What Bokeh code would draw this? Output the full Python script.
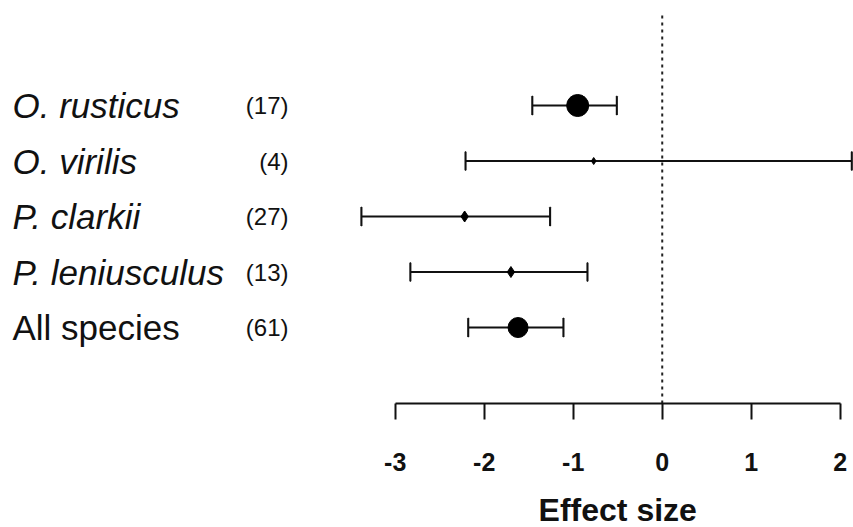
from bokeh.plotting import figure
from bokeh.layouts import column
from bokeh.models import ColumnDataSource, Label, FixedTicker, Range1d
from bokeh.core.properties import value
from bokeh.embed import file_html
from bokeh.resources import INLINE

# Forest plot: mean effect size with confidence interval per crayfish species
species = ["O. rusticus", "O. virilis", "P. clarkii", "P. leniusculus", "All species"]
italic = [True, True, True, True, False]
n_studies = [17, 4, 27, 13, 61]
effect = [-0.95, -0.77, -2.22, -1.70, -1.62]
ci_low = [-1.46, -2.21, -3.38, -2.83, -2.18]
ci_high = [-0.51, 2.13, -1.26, -0.84, -1.11]
point_size = [22, 7, 11, 11, 20]
point_marker = ["circle", "diamond", "diamond", "diamond", "circle"]
x_ticks = [-3, -2, -1, 0, 1, 2]
x_tick_labels = ["-3", "-2", "-1", "0", "1", "2"]
x_title = "Effect size"

rows = list(range(len(species), 0, -1))  # top row first

src = ColumnDataSource(dict(
    y=rows, est=effect, lo=ci_low, hi=ci_high,
    size=point_size, marker=point_marker,
))

W = 853
xr = Range1d(-7.435, 2.149)
p = figure(width=W, frame_height=403, output_backend="svg", toolbar_location=None,
           x_range=xr, y_range=(-0.369, 6.892),
           min_border_left=0, min_border_right=0, min_border_top=0,
           min_border_bottom=80, outline_line_color=None,
           background_fill_color="white", border_fill_color="white")
p.grid.visible = False
p.yaxis.visible = False

# reference line at zero effect
p.segment(x0=0, x1=0, y0=-0.369, y1=6.68, line_color="#222222",
          line_width=2, line_dash="3 4")

# confidence intervals with end caps
p.segment(x0="lo", x1="hi", y0="y", y1="y", source=src,
          line_color="#111111", line_width=2)
p.rect(x="lo", y="y", width=0.001, height=18, height_units="screen",
       source=src, line_color="#111111", line_width=2, fill_color=None)
p.rect(x="hi", y="y", width=0.001, height=18, height_units="screen",
       source=src, line_color="#111111", line_width=2, fill_color=None)

# point estimates
p.scatter(x="est", y="y", size="size", marker="marker", source=src,
          fill_color="black", line_color="black")

# x axis, drawn only over the tick span
ax = p.xaxis[0]
ax.bounds = (x_ticks[0], x_ticks[-1])
ax.ticker = FixedTicker(ticks=x_ticks)
ax.major_label_overrides = {t: s for t, s in zip(x_ticks, x_tick_labels)}
ax.axis_line_width = 2
ax.axis_line_color = "#111111"
ax.major_tick_line_width = 2
ax.major_tick_line_color = "#111111"
ax.major_tick_in = 0
ax.major_tick_out = 16
ax.minor_tick_line_color = None
ax.major_label_text_font = "Liberation Sans"
ax.major_label_text_font_style = "bold"
ax.major_label_text_font_size = "25px"
ax.major_label_text_color = "#111111"
ax.major_label_standoff = 33

# row labels: species name and number of studies
for y, name, it, n in zip(rows, species, italic, n_studies):
    p.add_layout(Label(x=12, y=y, x_units="screen", y_units="data",
                       text=name, text_font="Liberation Sans",
                       text_font_size="35px",
                       text_font_style="italic" if it else "normal",
                       text_color="#111111", text_baseline="middle",
                       text_align="left"))
    p.add_layout(Label(x=288, y=y, x_units="screen", y_units="data",
                       text=f"({n})", text_font="Liberation Sans",
                       text_font_size="24px", text_color="#111111",
                       text_baseline="middle", text_align="right"))

# axis title strip sharing the x scale, centred under the tick span
t = figure(width=W, height=44, output_backend="svg", toolbar_location=None,
           x_range=xr, y_range=(0, 1), min_border_left=0, min_border_right=0,
           min_border_top=0, min_border_bottom=0, outline_line_color=None,
           background_fill_color="white", border_fill_color="white")
t.axis.visible = False
t.grid.visible = False
t.text(x=[(x_ticks[0] + x_ticks[-1]) / 2], y=[0.4], text=[x_title],
       text_font=value("Liberation Sans"), text_font_style="bold",
       text_font_size="32px", text_color="#111111",
       text_align="center", text_baseline="middle")

open("out.html", "w").write(file_html(column(p, t, spacing=0), INLINE))
